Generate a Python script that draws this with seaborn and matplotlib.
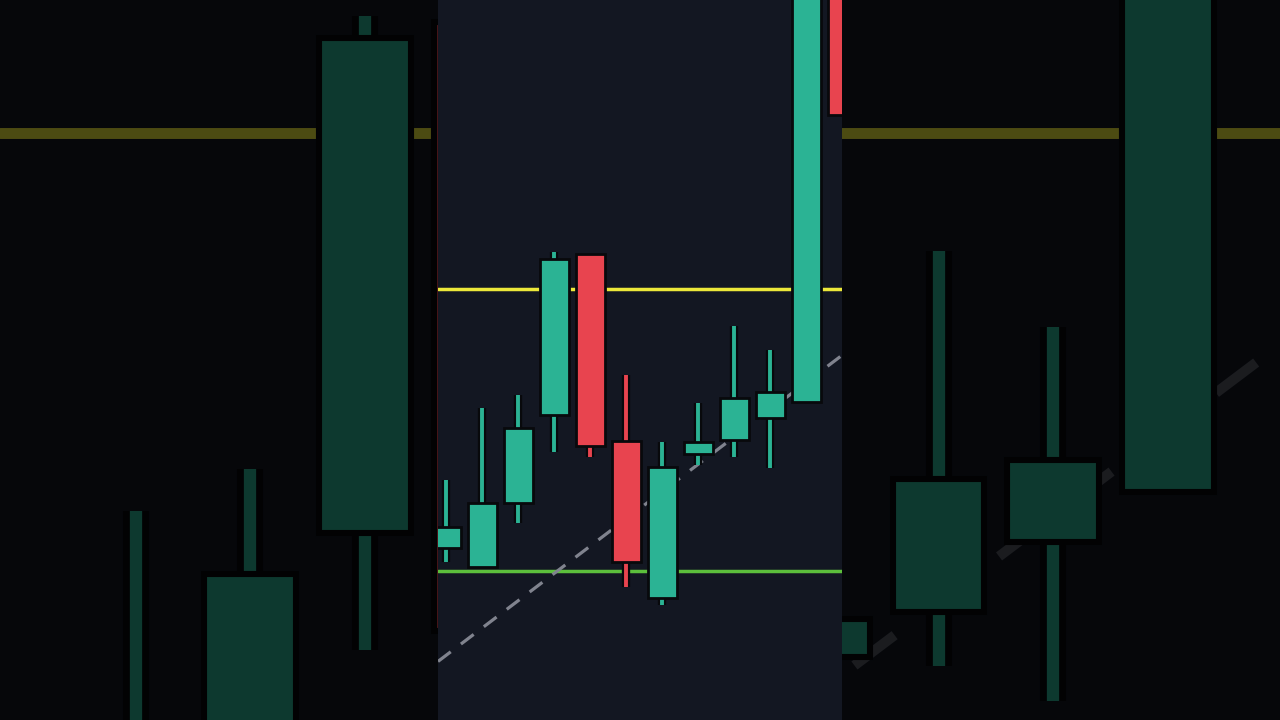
import numpy as np
import pandas as pd
import seaborn as sns
import matplotlib
matplotlib.use("Agg")
from matplotlib import pyplot as plt
from matplotlib.patches import Rectangle

# candle data (bar index, OHLC)
bar_index = list(range(12))
opens  = [117.2, 115.3, 121.7, 130.5, 146.6, 127.9, 112.2, 126.6, 128.0, 130.2, 131.8, 178.0]
highs  = [124.0, 131.2, 132.5, 146.8, 146.6, 134.5, 127.8, 131.7, 139.4, 137.0, 179.5, 180.0]
lows   = [115.8, 115.3, 119.7, 126.8, 126.3, 113.3, 111.5, 125.5, 126.3, 125.2, 131.8, 160.5]
closes = [119.3, 121.7, 129.2, 146.1, 127.4, 115.8, 125.3, 127.8, 132.2, 132.8, 178.5, 160.5]

# drawn levels
resistance = 143.1
support = 114.9
trend_x = [0, 11]
trend_y = [106.5, 136.5]

UP = "#2bb394"
DOWN = "#e8444f"
OUTLINE = "#08090c"
YELLOW = "#ece83a"
LIME = "#5cbf3c"
GREY = "#80838e"
BG = "#131722"

df = pd.DataFrame({"i": bar_index, "open": opens, "high": highs,
                   "low": lows, "close": closes})
df["color"] = np.where(df["close"] >= df["open"], UP, DOWN)
df["body_lo"] = df[["open", "close"]].min(axis=1)
df["body_h"] = (df["close"] - df["open"]).abs()

sns.set_theme(style="dark", rc={"axes.facecolor": BG, "figure.facecolor": "#07080b"})


def draw_chart(ax, k, edge=2.0, trend_alpha=1.0):
    # k scales line widths (background copy is zoomed ~3x)
    ax.axhline(resistance, color=YELLOW, lw=2.5 * k, zorder=1)
    ax.axhline(support, color=LIME, lw=2.5 * k, zorder=1)
    ax.axline((trend_x[0], trend_y[0]), (trend_x[1], trend_y[1]),
              color=GREY, lw=2.3 * k, dashes=(5, 4), alpha=trend_alpha, zorder=1)
    ax.vlines(df["i"], df["low"], df["high"], color=OUTLINE, lw=6.0 * k, zorder=2)
    ax.vlines(df["i"], df["low"], df["high"], colors=df["color"], lw=2.8 * k, zorder=3)
    ax.bar(df["i"], df["body_h"], bottom=df["body_lo"], width=0.8,
           color=df["color"], edgecolor=OUTLINE, linewidth=edge * k, zorder=4)
    ax.set_xticks([])
    ax.set_yticks([])
    ax.set_xlabel("")
    ax.set_ylabel("")
    for s in ax.spines.values():
        s.set_visible(False)


fig = plt.figure(figsize=(12.8, 7.2), dpi=100)

# darkened, zoomed backdrop of the same chart
bg = fig.add_axes([0, 0, 1, 1])
draw_chart(bg, 3.15, edge=1.4, trend_alpha=0.6)
bg.set_xlim(-0.182, 10.977)
bg.set_ylim(124.6, 147.3)
bg.add_patch(Rectangle((0, 0), 1, 1, transform=bg.transAxes,
                       color="black", alpha=0.68, zorder=10, lw=0))

# the actual chart in the middle strip
ax = fig.add_axes([438 / 1280, 0, 404 / 1280, 1])
draw_chart(ax, 1.0)
ax.set_xlim(-0.236, 10.99)
ax.set_ylim(100, 172)

fig.savefig("out.png", dpi=100)
